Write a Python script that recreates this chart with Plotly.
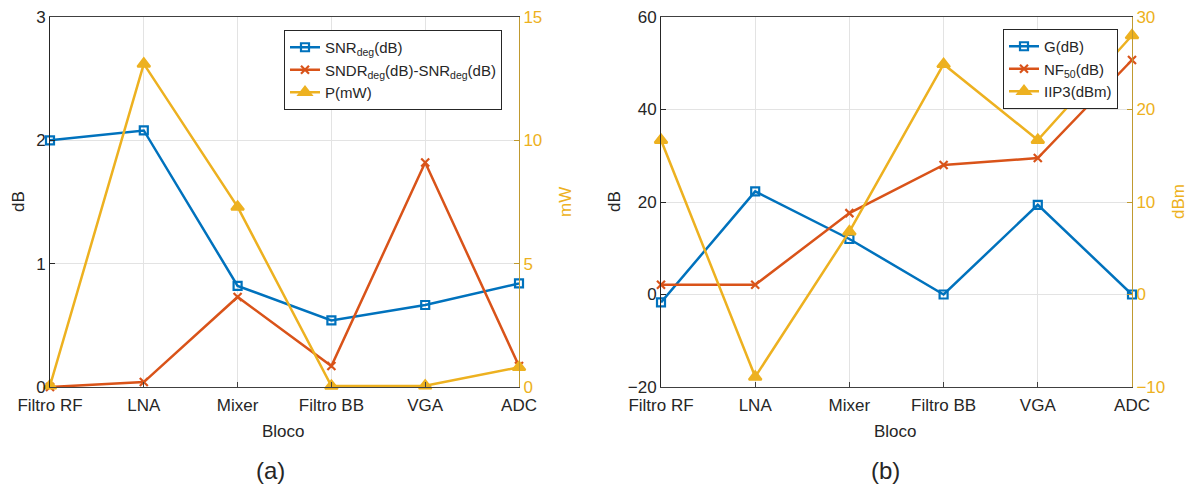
import plotly.graph_objects as go

W, H = 1189, 490
blocks = ["Filtro RF", "LNA", "Mixer", "Filtro BB", "VGA", "ADC"]

# Panel (a)
snr_deg = [2.0, 2.08, 0.82, 0.54, 0.665, 0.84]
sndr_minus_snr = [0.0, 0.04, 0.73, 0.17, 1.82, 0.17]
power_mw = [0.05, 13.1, 7.3, 0.04, 0.05, 0.8]

# Panel (b)
gain_db = [-1.7, 22.3, 12.0, 0.0, 19.4, 0.0]
nf50_db = [2.1, 2.1, 17.6, 28.0, 29.5, 50.7]
iip3_dbm = [16.7, -8.9, 6.8, 24.9, 16.7, 28.0]

BLUE = "#0072BD"
ORANGE = "#D95319"
YELLOW = "#EDB120"
DARK = "#262626"
FONT = "Liberation Sans, Arial, sans-serif"

def fx(px):
    return px / W

def fy(py):
    return 1 - py / H

fig = go.Figure()

def add_series(x, y, xa, ya, name, color, symbol, size, legend):
    fig.add_trace(go.Scatter(
        x=x, y=y, xaxis=xa, yaxis=ya, name=name, mode="lines+markers",
        line=dict(color=color, width=2.5),
        marker=dict(symbol=symbol, size=size, color=color,
                    line=dict(color=color, width=2.2)),
        cliponaxis=False, legend=legend,
    ))

add_series(blocks, snr_deg, "x", "y", "SNR<sub>deg</sub>(dB)", BLUE, "square-open", 8, "legend")
add_series(blocks, sndr_minus_snr, "x", "y", "SNDR<sub>deg</sub>(dB)-SNR<sub>deg</sub>(dB)", ORANGE, "x-thin-open", 8, "legend")
add_series(blocks, power_mw, "x", "y2", "P(mW)", YELLOW, "triangle-up", 11, "legend")

add_series(blocks, gain_db, "x2", "y3", "G(dB)", BLUE, "square-open", 8, "legend2")
add_series(blocks, nf50_db, "x2", "y3", "NF<sub>50</sub>(dB)", ORANGE, "x-thin-open", 8, "legend2")
add_series(blocks, iip3_dbm, "x2", "y4", "IIP3(dBm)", YELLOW, "triangle-up", 11, "legend2")

ydom = [fy(387), fy(17)]
tickfont = dict(family=FONT, size=17, color=DARK)
ytickfont = dict(family=FONT, size=17, color=DARK)
ytickfont2 = dict(family=FONT, size=17, color=YELLOW)

def xaxis_cfg(dom, anchor):
    return dict(domain=dom, anchor=anchor, type="category", range=[0, 5],
                showgrid=True, gridcolor="#E3E3E3", gridwidth=1,
                showline=True, linecolor="#404040", linewidth=1, mirror=True,
                ticks="inside", ticklen=5, tickcolor="#404040",
                tickfont=tickfont, automargin=False, zeroline=False,
                ticklabelstandoff=3)

def yleft_cfg(anchor, rng, dtick):
    return dict(domain=ydom, anchor=anchor, range=rng, dtick=dtick,
                showgrid=True, gridcolor="#E3E3E3", gridwidth=1,
                showline=True, linecolor=DARK, linewidth=1,
                ticks="inside", ticklen=5, tickcolor=DARK,
                tickfont=ytickfont, automargin=False, zeroline=False)

def yright_cfg(anchor, over, rng, dtick):
    return dict(anchor=anchor, overlaying=over, side="right", range=rng, dtick=dtick,
                showgrid=False, showline=True, linecolor="#C09A30", linewidth=1,
                ticks="inside", ticklen=5, tickcolor="#C09A30",
                tickfont=ytickfont2, automargin=False, zeroline=False)

fig.update_layout(
    width=W, height=H,
    margin=dict(l=0, r=0, t=0, b=0),
    paper_bgcolor="white", plot_bgcolor="white",
    font=dict(family=FONT, color=DARK),
    xaxis=xaxis_cfg([fx(50), fx(519)], "y"),
    yaxis=yleft_cfg("x", [0, 3], 1),
    yaxis2=yright_cfg("x", "y", [0, 15], 5),
    xaxis2=xaxis_cfg([fx(661), fx(1132)], "y3"),
    yaxis3=yleft_cfg("x2", [-20, 60], 20),
    yaxis4=yright_cfg("x2", "y3", [-10, 30], 10),
    legend=dict(x=fx(284), y=fy(30), xanchor="left", yanchor="top",
                bgcolor="white", bordercolor=DARK, borderwidth=1,
                font=dict(family=FONT, size=15, color=DARK),
                tracegroupgap=0, itemwidth=30),
    legend2=dict(x=fx(1003), y=fy(29), xanchor="left", yanchor="top",
                 bgcolor="white", bordercolor=DARK, borderwidth=1,
                 font=dict(family=FONT, size=15, color=DARK),
                 tracegroupgap=0, itemwidth=30),
    showlegend=True,
)

def ann(text, x, y, size=17, color=DARK, angle=0):
    fig.add_annotation(text=text, x=fx(x), y=fy(y), xref="paper", yref="paper",
                       showarrow=False, textangle=angle, xanchor="center", yanchor="middle",
                       font=dict(family=FONT, size=size, color=color))

ann("dB", 18, 202, angle=-90)
ann("mW", 565, 202, color=YELLOW, angle=-90)
ann("Bloco", 283, 431)
ann("dB", 614, 202, angle=-90)
ann("dBm", 1178, 202, color=YELLOW, angle=-90)
ann("Bloco", 895, 431)
ann("(a)", 270, 470, size=24)
ann("(b)", 885, 470, size=24)

fig.write_html("out.html")
